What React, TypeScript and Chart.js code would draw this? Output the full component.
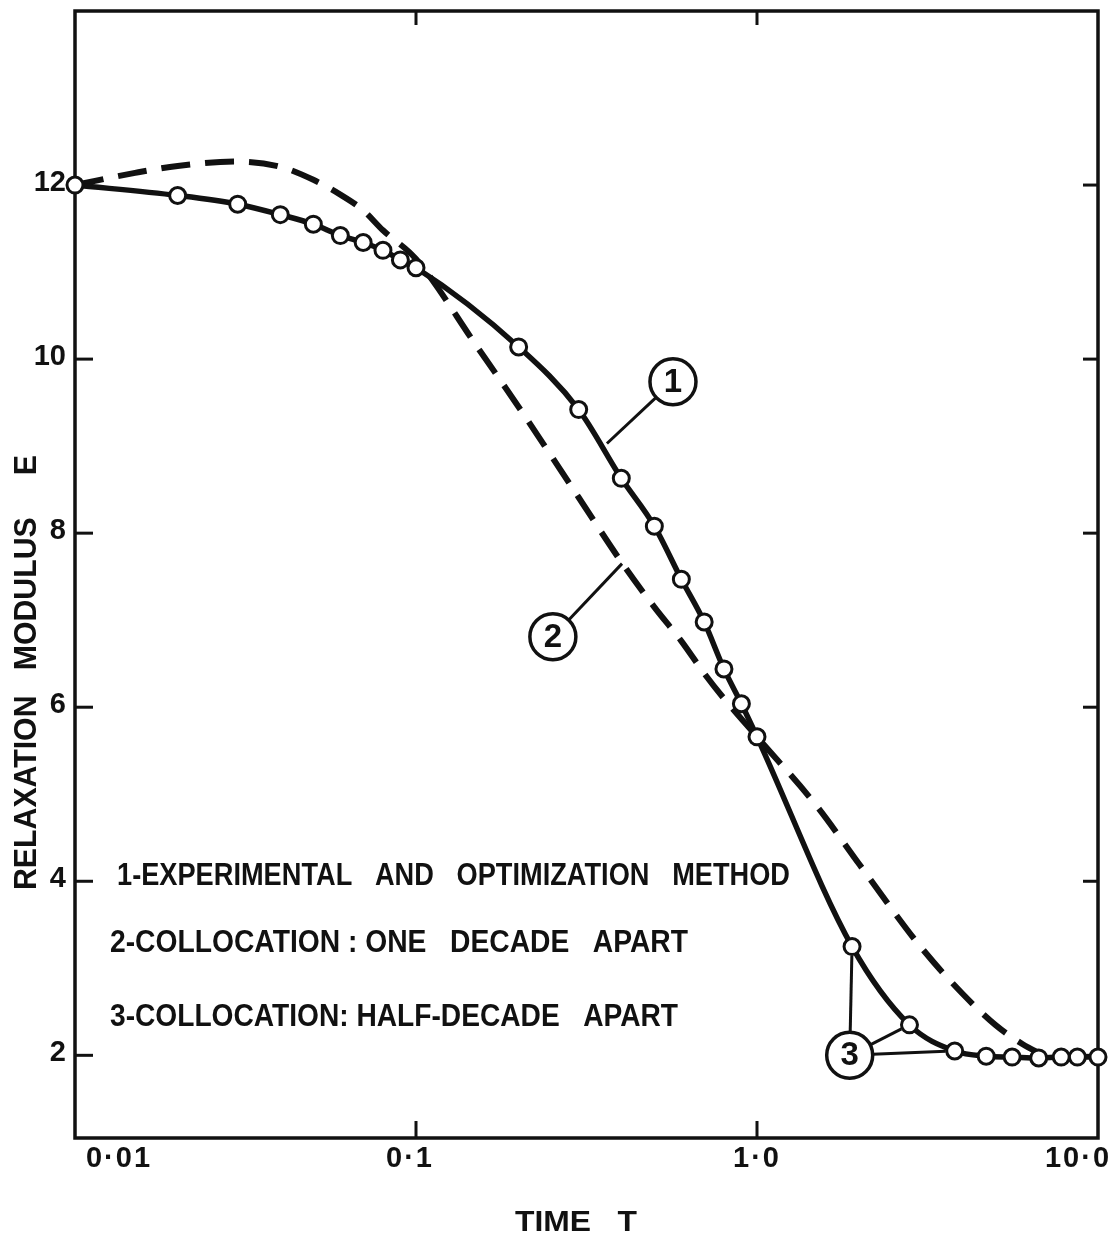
import React, { useEffect, useRef } from "react";
import { Chart, registerables } from "chart.js";

Chart.register(...registerables);

// ---- data ----
// Curve 1: experimental points + optimization fit (solid line, open circles)
const timeMeasured = [
  0.01, 0.02, 0.03, 0.04, 0.05, 0.06, 0.07, 0.08, 0.09, 0.1,
  0.2, 0.3, 0.4, 0.5, 0.6, 0.7, 0.8, 0.9, 1.0,
  1.9, 2.8, 3.8, 4.7, 5.6, 6.7, 7.8, 8.7, 10,
];
const modulusMeasured = [
  12.0, 11.88, 11.78, 11.66, 11.55, 11.42, 11.34, 11.25, 11.14, 11.05,
  10.14, 9.42, 8.63, 8.08, 7.47, 6.98, 6.44, 6.04, 5.66,
  3.25, 2.35, 2.05, 1.99, 1.98, 1.97, 1.98, 1.98, 1.98,
];

// Curve 2: collocation, one decade apart (dashed line)
const timeOneDecade = [
  0.01, 0.015, 0.02, 0.03, 0.04, 0.05, 0.06, 0.07, 0.08, 0.1,
  0.15, 0.2, 0.3, 0.4, 0.5, 0.6, 0.7, 0.8, 1.0,
  1.5, 2, 3, 4, 5, 6, 7,
];
const modulusOneDecade = [
  12.0, 12.14, 12.22, 12.27, 12.21, 12.06, 11.89, 11.71, 11.48, 11.15,
  10.16, 9.45, 8.41, 7.67, 7.15, 6.76, 6.39, 6.1, 5.66,
  4.86, 4.19, 3.26, 2.71, 2.35, 2.13, 1.99,
];

// Axis ticks
const xTickValues = [0.01, 0.1, 1, 10];
const xTickLabels = ["0·01", "0·1", "1·0", "10·0"];
const yTickValues = [2, 4, 6, 8, 10, 12];
const yTickLabels = ["2", "4", "6", "8", "10", "12"];

// Texts
const xAxisTitle = "TIME   T";
const yAxisTitle = "RELAXATION   MODULUS     E";
const legendLines = [
  "1-EXPERIMENTAL   AND   OPTIMIZATION   METHOD",
  "2-COLLOCATION : ONE   DECADE   APART",
  "3-COLLOCATION: HALF-DECADE   APART",
];

// Callouts: circled numbers placed in data coordinates [time, modulus]
const callout1Center = [0.567, 9.74];
const callout1Target = [0.363, 9.03];
const callout2Center = [0.252, 6.81];
const callout2Target = [0.402, 7.65];
const callout3Center = [1.87, 2.0];
const callout3PointIndexes = [19, 20, 21];

// ---- style ----
const INK = "#111111";
const FONT = "'Liberation Sans', Arial, sans-serif";
const MARKER_R = 8;
const CIRCLE_R = 23;
const xTickLabelShift = [44, -6, 0, -20];

function seg(ctx: CanvasRenderingContext2D, x1: number, y1: number, x2: number, y2: number) {
  ctx.beginPath();
  ctx.moveTo(x1, y1);
  ctx.lineTo(x2, y2);
  ctx.stroke();
}

// draw text left-aligned at x, horizontally squeezed/stretched to a target width
function fitText(ctx: CanvasRenderingContext2D, text: string, x: number, y: number, width: number) {
  const w = ctx.measureText(text).width;
  ctx.save();
  ctx.translate(x, y);
  ctx.scale(width / w, 1);
  ctx.textAlign = "left";
  ctx.fillText(text, 0, 0);
  ctx.restore();
}

const decorPlugin = {
  id: "decor",
  beforeDatasetsDraw(chart: any) {
    const { ctx, chartArea: a, scales } = chart;
    const xs = scales.x;
    const ys = scales.y;
    ctx.save();
    ctx.strokeStyle = INK;
    ctx.lineWidth = 3.5;
    ctx.lineCap = "square";
    ctx.strokeRect(a.left, a.top, a.right - a.left, a.bottom - a.top);
    ctx.lineWidth = 3;
    ctx.lineCap = "butt";
    for (const v of yTickValues) {
      const py = ys.getPixelForValue(v);
      seg(ctx, a.left, py, a.left + 18, py);
      seg(ctx, a.right, py, a.right - 15, py);
    }
    for (const v of xTickValues.slice(1, -1)) {
      const px = xs.getPixelForValue(v);
      seg(ctx, px, a.bottom, px, a.bottom - 17);
      seg(ctx, px, a.top, px, a.top + 14);
    }
    ctx.restore();
  },
  afterDatasetsDraw(chart: any) {
    const { ctx, scales } = chart;
    const xs = scales.x;
    const ys = scales.y;
    const P = (d: number[]) => [xs.getPixelForValue(d[0]), ys.getPixelForValue(d[1])];
    ctx.save();
    ctx.strokeStyle = INK;
    ctx.fillStyle = INK;
    ctx.lineWidth = 3;

    const leader = (c: number[], t: number[], endGap: number) => {
      const dx = t[0] - c[0];
      const dy = t[1] - c[1];
      const len = Math.hypot(dx, dy);
      const ux = dx / len;
      const uy = dy / len;
      seg(ctx, c[0] + ux * CIRCLE_R, c[1] + uy * CIRCLE_R, t[0] - ux * endGap, t[1] - uy * endGap);
    };
    const circled = (c: number[], label: string) => {
      ctx.lineWidth = 3.5;
      ctx.beginPath();
      ctx.arc(c[0], c[1], CIRCLE_R, 0, Math.PI * 2);
      ctx.fillStyle = "#ffffff";
      ctx.fill();
      ctx.stroke();
      ctx.fillStyle = INK;
      ctx.font = `bold 33px ${FONT}`;
      ctx.textAlign = "center";
      ctx.textBaseline = "middle";
      ctx.fillText(label, c[0], c[1] + 1);
      ctx.lineWidth = 3;
    };

    const c1 = P(callout1Center);
    leader(c1, P(callout1Target), 0);
    circled(c1, "1");

    const c2 = P(callout2Center);
    leader(c2, P(callout2Target), 0);
    circled(c2, "2");

    const c3 = P(callout3Center);
    for (const i of callout3PointIndexes) {
      leader(c3, P([timeMeasured[i], modulusMeasured[i]]), MARKER_R + 1);
    }
    circled(c3, "3");
    ctx.restore();
  },
  afterDraw(chart: any) {
    const { ctx, chartArea: a, scales } = chart;
    const xs = scales.x;
    const ys = scales.y;
    ctx.save();
    ctx.fillStyle = INK;

    // y tick labels
    ctx.font = `bold 29px ${FONT}`;
    ctx.textAlign = "right";
    ctx.textBaseline = "middle";
    yTickValues.forEach((v, i) => {
      ctx.fillText(yTickLabels[i], a.left - 9, ys.getPixelForValue(v) - 2);
    });

    // x tick labels
    ctx.textAlign = "center";
    (ctx as any).letterSpacing = "2px";
    xTickValues.forEach((v, i) => {
      ctx.fillText(xTickLabels[i], xs.getPixelForValue(v) + xTickLabelShift[i], a.bottom + 21);
    });
    (ctx as any).letterSpacing = "0px";

    // x axis title
    ctx.font = `bold 29px ${FONT}`;
    fitText(ctx, xAxisTitle, 515, a.bottom + 85, 122);

    // y axis title
    ctx.save();
    ctx.translate(27, 890);
    ctx.rotate(-Math.PI / 2);
    ctx.font = `bold 32px ${FONT}`;
    fitText(ctx, yAxisTitle, 0, 0, 435);
    ctx.restore();

    // legend text
    ctx.font = `bold 32px ${FONT}`;
    const legendPos = [
      [117, 876, 673],
      [110, 943, 578],
      [110, 1017, 568],
    ];
    legendLines.forEach((t, i) => fitText(ctx, t, legendPos[i][0], legendPos[i][1], legendPos[i][2]));
    ctx.restore();
  },
};

export default function App() {
  const canvasRef = useRef<HTMLCanvasElement | null>(null);

  useEffect(() => {
    const canvas = canvasRef.current;
    if (!canvas) return;
    const chart = new Chart(canvas, {
      type: "line",
      data: {
        datasets: [
          {
            label: "1-Experimental and optimization method",
            data: timeMeasured.map((t, i) => ({ x: t, y: modulusMeasured[i] })),
            borderColor: INK,
            borderWidth: 5.5,
            cubicInterpolationMode: "monotone",
            pointRadius: MARKER_R,
            pointHoverRadius: MARKER_R,
            pointBorderWidth: 3,
            pointBackgroundColor: "#ffffff",
            pointBorderColor: INK,
            clip: false,
            order: 0,
          },
          {
            label: "2-Collocation: one decade apart",
            data: timeOneDecade.map((t, i) => ({ x: t, y: modulusOneDecade[i] })),
            borderColor: INK,
            borderWidth: 6,
            borderDash: [29, 15],
            borderCapStyle: "butt",
            cubicInterpolationMode: "monotone",
            pointRadius: 0,
            pointHoverRadius: 0,
            clip: false,
            order: 1,
          },
        ],
      },
      options: {
        responsive: false,
        animation: false,
        devicePixelRatio: 1,
        events: [],
        layout: { padding: { left: 75, top: 8, right: 19, bottom: 102 } },
        plugins: { legend: { display: false }, tooltip: { enabled: false }, title: { display: false } },
        scales: {
          x: { type: "logarithmic", min: 0.01, max: 10, display: false },
          y: { type: "linear", min: 1.05, max: 14, display: false },
        },
      },
      plugins: [decorPlugin],
    } as any);
    return () => chart.destroy();
  }, []);

  return (
    <div style={{ position: "fixed", left: 0, top: 0, width: 1117, height: 1240, background: "#ffffff" }}>
      <canvas ref={canvasRef} width={1117} height={1240} style={{ display: "block" }} />
    </div>
  );
}
